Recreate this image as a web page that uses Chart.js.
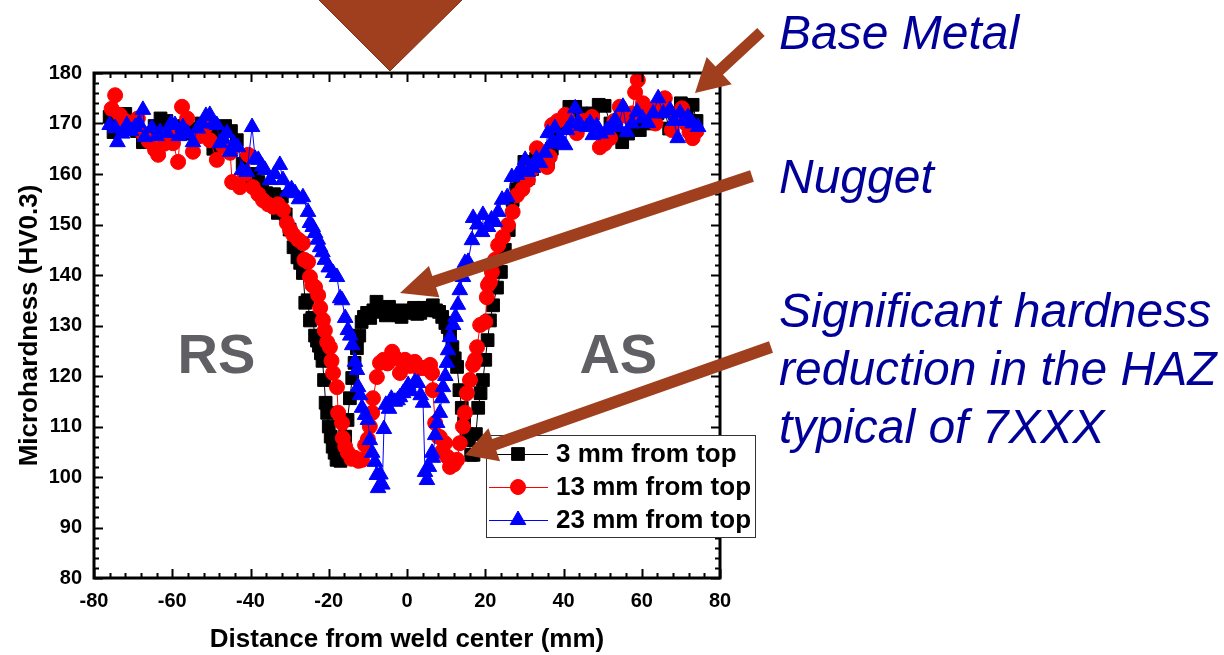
<!DOCTYPE html>
<html>
<head>
<meta charset="utf-8">
<script src="https://cdn.jsdelivr.net/npm/chart.js@4.4.1/dist/chart.umd.min.js"></script>
<style>
  html, body { margin: 0; padding: 0; background: #ffffff; }
  #wrap { position: relative; width: 1224px; height: 655px; }
</style>
</head>
<body>
<div id="wrap"><canvas id="c" width="1224" height="655"></canvas></div>
<script>
// Microhardness traverses across the friction stir weld, [distance mm, HV0.3]
const seriesLabels = ['3 mm from top', '13 mm from top', '23 mm from top'];

const top3mm = [
  [-76,171.3],[-75,168.3],[-73.5,170.5],[-72,171.9],[-70.5,169],[-69,168.5],[-67.5,166.3],[-66,168],
  [-64.5,169.5],[-63,171],[-61.5,170.5],[-60,169],[-58.5,168.3],[-57,169.5],[-55.5,168],[-54,169],
  [-52.5,170],[-51,169],[-49.5,165],[-48,168],[-46.5,169.5],[-45,168.5],[-43.5,166.7],[-42,162],
  [-41,160],[-40,159.4],[-39,160],[-38,158.4],[-37,156.5],[-36,156.2],[-35,155.5],[-34,156],
  [-33,152.3],[-32,155.5],[-31,152],[-30,149],[-29,145.5],[-28,143.5],[-27.3,142.4],[-26.6,140.4],
  [-26,134.5],[-25.4,135],[-24.8,131],[-24.2,131.5],[-23.5,128],[-23,127],[-22.5,126],[-22,124.5],
  [-21.6,123],[-21.2,119.2],[-20.8,114.7],[-20.4,112.7],[-20,110],[-19.5,108],[-19,106],[-18.5,104.8],
  [-18,103.4],[-17.5,103.8],[-17,103.2],[-16.4,104],[-15.8,108],[-15.2,111.3],[-14.6,115.6],[-14,119.6],
  [-13.4,122.6],[-12.8,125.5],[-12.2,128],[-11.6,130.7],[-11,131.7],[-10.2,132.5],[-9.4,131.5],[-8.6,133],
  [-7.8,134.7],[-7,133.5],[-6.2,132.7],[-5.4,132],[-4.6,133.7],[-3.8,132.5],[-3,133],[-2.2,132],
  [-1.4,131.7],[-0.6,132.5],[0.2,133],[1,132.7],[1.8,133.5],[2.6,132.3],[3.4,132.5],[4.2,133.5],
  [5,133],[5.8,133.5],[6.6,134],[7.4,133],[8.2,132.7],[9,131.7],[9.8,130.5],[10.4,129.7],
  [11,128.5],[11.6,125.7],[12.2,123.5],[12.8,121.8],[13.4,117.2],[14,113.7],[14.6,110.7],[15.2,108.5],
  [15.8,107.3],[16.4,104.4],[17,104.4],[17.6,108.5],[18.2,113.7],[18.8,116.6],[19.4,119.2],[20,123.2],
  [20.6,127.1],[21.2,131],[22,134],[23,137.5],[24,140.6],[25,145],[26,148.9],[27,154.8],
  [28,157],[29,159],[30,162.4],[31,159.2],[32,161],[33,163],[34,162.5],[35,163],
  [36,162.4],[37,165],[38,167],[39,169.3],[40,170],[41.5,173.3],[43,173.3],[44.5,172],
  [46,170],[47.5,172],[49,173.7],[50.5,173.5],[52,170],[53.5,168],[55,166.3],[56.5,168],
  [58,169],[59.5,168.7],[61,170],[62.5,171],[64,172],[65.5,173.7],[67,169],[68.5,172],
  [70,174],[71.5,173],[73,173.7],[74,170.5]
];

const top13mm = [
  [-75.5,172.9],[-74.6,175.6],[-73.4,171.7],[-72,170.5],[-70.5,169.5],[-68.8,171],[-67.5,168],[-66,166.5],
  [-64.4,164.8],[-63.6,163.8],[-62,166],[-60.8,168],[-59.8,166.1],[-58.5,162.4],[-57.5,173.3],[-56.2,171],
  [-54.7,164.4],[-53,167.5],[-51.6,169.3],[-50.4,166.7],[-48.6,162.8],[-47,165.5],[-45.2,164.2],[-44.7,158.4],
  [-42.7,157.4],[-41.5,160],[-40.6,163.8],[-39.4,157.4],[-38,156],[-36.8,154.8],[-35.5,154],[-34.2,153.5],
  [-33,154],[-31.7,152.9],[-30.7,150.3],[-29.9,149],[-29.1,148],[-27.8,147],[-26.6,146.3],[-26.2,143],
  [-25.3,142.6],[-24.8,139.6],[-24.2,138],[-23.5,137.6],[-22.7,136],[-22.2,133.5],[-21.5,131.1],[-21,129],
  [-20.4,126.7],[-19.7,125.7],[-19.3,123],[-18.9,120.6],[-17.9,117.8],[-17.6,112.7],[-16.6,110.7],[-16.4,107.7],
  [-15.8,106],[-15.1,104.8],[-14.2,103.6],[-13.3,103.8],[-12.4,103.2],[-11.5,103.4],[-10.7,106.3],[-10,107.5],
  [-9.5,110],[-8.9,112.7],[-8.7,115.6],[-7.7,119.8],[-6.9,122.6],[-6,123.2],[-5,122.5],[-3.8,124.8],
  [-2.8,123.5],[-1.8,120.6],[-0.5,123.2],[0.8,122],[2,122.8],[3,121.5],[4.1,121.6],[5,121.5],
  [5.9,122.2],[6.4,120.6],[6.6,117.2],[7.2,110.7],[8,108],[8.4,107.9],[8.9,105],[9.7,106.7],
  [10.3,104],[11,102],[12,102.5],[12.8,103.4],[13.5,106.7],[14.3,110],[14.8,112.7],[15.3,116.6],
  [16.1,119.2],[16.9,122.2],[17.4,123.2],[17.9,125.7],[18.7,130.1],[20,130.7],[20.4,135.6],[20.7,138],
  [21.2,138.6],[21.7,140.6],[22.5,143],[23.3,145.9],[24.5,147.5],[25.8,149.9],[27,152.5],[28.1,155.8],
  [29.5,157],[30.9,158.8],[32,161],[33.2,165.1],[34.5,163],[35.8,161.4],[36.5,163.4],[37.1,169.7],
  [38.5,170.5],[40.4,171.7],[41.8,170],[43.4,168.1],[45,170.5],[47.3,171.3],[49.3,165.3],[50.5,166],
  [51.9,167.1],[53,170.5],[54.4,173.3],[56,171.5],[57.5,172],[58.3,176.2],[59,178.6],[60.3,174],
  [62.1,172.7],[63.5,170],[64.8,173.5],[65.9,175],[67.7,168.7],[69,171],[70.3,173],[71.3,170],
  [72.2,168.3],[73,167.1],[74,168.5]
];

const top23mm = [
  [-76,169.7],[-74.6,169.1],[-74,166.3],[-72.8,168],[-71.6,169.7],[-70.5,168.5],[-69.5,169.3],[-68.5,170],
  [-67.5,172.7],[-67,167.3],[-65.2,169.1],[-64,167.5],[-63.1,168.3],[-61.3,168.1],[-60.3,170],[-59.3,169.7],
  [-58.3,167.5],[-57.3,169.3],[-56,168],[-54.7,166.3],[-53.5,169],[-52.3,170],[-51.4,171.5],[-50.4,171.7],
  [-49.5,170],[-48.6,169.7],[-47.8,166.1],[-47,167],[-46,168.1],[-45.2,164.4],[-44.2,166],[-43.2,165.3],
  [-42.2,160.8],[-40.9,160.4],[-39.6,169.3],[-38.8,163],[-38,162.8],[-37,161.5],[-36.3,160.8],[-35,158.8],
  [-33.8,160],[-32.5,161.8],[-31.7,158.8],[-30.5,156.5],[-29.5,157],[-28.6,156.2],[-27.6,155],[-26.6,155.4],
  [-25.3,152.5],[-24.8,150.3],[-24.1,149.5],[-23.5,148.3],[-22.8,147],[-22.2,145.5],[-21.6,144.5],[-21,143],
  [-20,141.5],[-18.9,140.4],[-17.9,139.6],[-17.1,135.4],[-16.6,135],[-15.8,131.5],[-15.1,129.1],[-14.5,128],
  [-14,126.1],[-13.3,122.8],[-12.8,121.2],[-12.5,117.8],[-12,116.2],[-11.5,113.7],[-10.7,112.3],[-10,111.3],
  [-9.5,107.3],[-8.9,104.8],[-8.2,103],[-7.7,100.4],[-7.4,97.8],[-6.8,100.5],[-6.3,98.5],[-5.9,109.5],
  [-5.4,114.3],[-4.6,113.5],[-4,115.5],[-3.1,114.9],[-2.4,115.2],[-1.8,115.8],[-1,116.6],[-0.4,117.2],
  [0.3,118.2],[1,117],[2,118.8],[2.8,118.6],[3.5,116.2],[4.1,114.7],[4.6,101],[5.1,99.4],
  [5.6,102],[6.4,104.8],[6.6,103.8],[7.2,108.3],[7.7,110.7],[8.4,112.7],[8.9,115.6],[9.2,117.8],
  [9.8,120],[10.2,122.6],[10.5,125.1],[11,127.7],[11.8,130.1],[12.4,131.7],[13,134.1],[13.5,137],
  [14.3,139.6],[14.8,142.4],[15.6,142.6],[16.6,146.9],[16.9,151.3],[18,150],[19.2,148.5],[19.4,151.9],
  [20.7,149.5],[21.6,151],[22.5,150.5],[23.3,152.5],[24.3,154.9],[25.6,155.4],[26.8,159.4],[28.1,159.8],
  [29.2,161],[30.2,162.8],[30.9,160.4],[32.2,161.2],[33.1,163],[34,162.2],[35.3,164.2],[36,168.1],
  [36.8,166],[37.8,169.1],[39,167],[39.9,166.1],[40.4,165.7],[40.9,168.7],[42,170],[43,173],
  [43.7,170.3],[44.5,169.5],[46,169.3],[46.8,170.1],[47.5,167.7],[48.5,169.5],[49.5,168],[51.1,168.7],
  [52.2,169.5],[53.2,170.7],[54,169.3],[55.2,173.3],[56.2,168.3],[57.5,170],[58.8,172.3],[60.2,171],
  [61.6,170.1],[62.9,172],[64.2,175],[65.5,172],[67.2,172.7],[68.2,170.5],[69.2,167.1],[69.8,172.1],
  [70.8,170.5],[71.8,171.3],[73,170],[74.4,169.3]
];

const xRange = [-80, 80];
const yRange = [80, 180];
const xStep = 20, xMinorStep = 4;
const yStep = 10, yMinorStep = 2;

const sideLabels = [
  { text: 'RS', x: -48.7 },
  { text: 'AS', x: 54.0 }
];
const calloutLines = [
  ['Base Metal'],
  ['Nugget'],
  ['Significant hardness', 'reduction in the HAZ', 'typical of 7XXX']
];

const FONT = '"Liberation Sans", Arial, Helvetica, sans-serif';
const BROWN = '#A03F1E';
const NAVY = '#000099';
const seriesColors = ['#000000', '#FF0000', '#0000FF'];
const seriesStyles = ['rect', 'circle', 'triangle'];
const seriesRadius = [9, 7.5, 9];

function toPoints(pairs) { return pairs.map(p => ({ x: p[0], y: p[1] })); }

function drawMarker(ctx, style, r, x, y, color) {
  ctx.beginPath();
  if (style === 'rect') {
    const s = Math.SQRT1_2 * r;
    ctx.rect(x - s, y - s, 2 * s, 2 * s);
  } else if (style === 'circle') {
    ctx.arc(x, y, r, 0, Math.PI * 2);
  } else {
    ctx.moveTo(x, y - r);
    ctx.lineTo(x + r * Math.sin(2 * Math.PI / 3), y - r * Math.cos(2 * Math.PI / 3));
    ctx.lineTo(x + r * Math.sin(4 * Math.PI / 3), y - r * Math.cos(4 * Math.PI / 3));
    ctx.closePath();
  }
  ctx.fillStyle = color; ctx.strokeStyle = color; ctx.lineWidth = 1;
  ctx.fill(); ctx.stroke();
}

function blockArrow(ctx, x0, y0, x1, y1, shaftW, headLen, headW) {
  const dx = x1 - x0, dy = y1 - y0, L = Math.hypot(dx, dy);
  const ux = dx / L, uy = dy / L, nx = -uy, ny = ux;
  const bx = x1 - ux * headLen, by = y1 - uy * headLen;
  ctx.beginPath();
  ctx.moveTo(x0 + nx * shaftW / 2, y0 + ny * shaftW / 2);
  ctx.lineTo(bx + nx * shaftW / 2, by + ny * shaftW / 2);
  ctx.lineTo(bx + nx * headW / 2, by + ny * headW / 2);
  ctx.lineTo(x1, y1);
  ctx.lineTo(bx - nx * headW / 2, by - ny * headW / 2);
  ctx.lineTo(bx - nx * shaftW / 2, by - ny * shaftW / 2);
  ctx.lineTo(x0 - nx * shaftW / 2, y0 - ny * shaftW / 2);
  ctx.closePath();
  ctx.fill();
}

// Frame with inward major/minor ticks on all four sides, legend, side labels and callouts
const decorations = {
  id: 'decorations',
  afterDraw(chart) {
    const ctx = chart.ctx;
    const { left, right, top, bottom } = chart.chartArea;
    const xs = chart.scales.x, ys = chart.scales.y;
    ctx.save();

    // side labels
    ctx.font = 'bold 56px ' + FONT;
    ctx.fillStyle = '#606064';
    ctx.textAlign = 'center';
    ctx.textBaseline = 'alphabetic';
    sideLabels.forEach(s => ctx.fillText(s.text, xs.getPixelForValue(s.x), 373));

    // ticks
    ctx.strokeStyle = '#000';
    ctx.lineWidth = 2;
    ctx.beginPath();
    for (let v = xRange[0]; v <= xRange[1] + 1e-9; v += xMinorStep) {
      const px = Math.round(xs.getPixelForValue(v)) + 0.5;
      const len = (Math.abs(v % xStep) < 1e-9) ? 9 : 5;
      ctx.moveTo(px, bottom); ctx.lineTo(px, bottom - len);
      ctx.moveTo(px, top); ctx.lineTo(px, top + len);
    }
    for (let v = yRange[0]; v <= yRange[1] + 1e-9; v += yMinorStep) {
      const py = Math.round(ys.getPixelForValue(v)) + 0.5;
      const len = (Math.abs(v % yStep) < 1e-9) ? 9 : 5;
      ctx.moveTo(left, py); ctx.lineTo(left + len, py);
      ctx.moveTo(right, py); ctx.lineTo(right - len, py);
    }
    ctx.stroke();

    // frame
    ctx.lineWidth = 3;
    ctx.strokeRect(left, top, right - left, bottom - top);

    // legend
    const lg = { x: 486.5, y: 435.5, w: 269, h: 102 };
    ctx.fillStyle = '#ffffff';
    ctx.fillRect(lg.x, lg.y, lg.w, lg.h);
    ctx.lineWidth = 1;
    ctx.strokeStyle = '#333333';
    ctx.strokeRect(lg.x, lg.y, lg.w, lg.h);
    const rowY = [454, 487, 520];
    ctx.font = 'bold 26px ' + FONT;
    ctx.textAlign = 'left';
    ctx.textBaseline = 'middle';
    seriesLabels.forEach((label, i) => {
      ctx.strokeStyle = seriesColors[i];
      ctx.lineWidth = 1;
      ctx.beginPath();
      ctx.moveTo(489, rowY[i] + 0.5); ctx.lineTo(548, rowY[i] + 0.5);
      ctx.stroke();
      drawMarker(ctx, seriesStyles[i], seriesRadius[i], 518, rowY[i], seriesColors[i]);
      ctx.fillStyle = '#000';
      ctx.fillText(label, 556, rowY[i] + 1);
    });

    // callout arrows
    ctx.fillStyle = BROWN;
    ctx.beginPath();
    ctx.moveTo(318, -1); ctx.lineTo(463, -1); ctx.lineTo(390, 71); ctx.closePath();
    ctx.fill();
    ctx.strokeStyle = '#7E3116'; ctx.lineWidth = 1; ctx.stroke();
    blockArrow(ctx, 761, 32, 695, 93, 11, 33, 37);
    blockArrow(ctx, 752, 176, 400, 293, 12, 36, 33);
    blockArrow(ctx, 771, 347, 465, 455, 12, 31, 35);

    // callout texts
    ctx.fillStyle = NAVY;
    ctx.font = 'italic 48px ' + FONT;
    ctx.textAlign = 'left';
    ctx.textBaseline = 'alphabetic';
    const baselines = [[49], [193], [327, 385, 443]];
    calloutLines.forEach((lines, i) => {
      lines.forEach((t, j) => ctx.fillText(t, 779, baselines[i][j]));
    });
    ctx.restore();
  }
};

const makeSet = (label, pairs, i, order) => ({
  label,
  data: toPoints(pairs),
  showLine: true,
  borderColor: seriesColors[i],
  backgroundColor: seriesColors[i],
  borderWidth: 1,
  pointStyle: seriesStyles[i],
  pointRadius: seriesRadius[i],
  pointBorderWidth: 1,
  pointBorderColor: seriesColors[i],
  pointBackgroundColor: seriesColors[i],
  tension: 0,
  order
});

const tickFont = { family: FONT, size: 20, weight: 'bold' };
const titleFont = { family: FONT, size: 26, weight: 'bold' };

new Chart(document.getElementById('c'), {
  type: 'scatter',
  data: {
    datasets: [
      makeSet(seriesLabels[0], top3mm, 0, 3),
      makeSet(seriesLabels[1], top13mm, 1, 2),
      makeSet(seriesLabels[2], top23mm, 2, 1)
    ]
  },
  options: {
    responsive: false,
    animation: false,
    devicePixelRatio: 1,
    layout: { padding: { left: 0, top: 73, right: 504, bottom: 0 } },
    plugins: { legend: { display: false }, tooltip: { enabled: false } },
    scales: {
      x: {
        type: 'linear', min: xRange[0], max: xRange[1],
        ticks: { stepSize: xStep, color: '#000', font: tickFont, padding: 11, maxRotation: 0 },
        grid: { display: false, drawTicks: false },
        border: { display: false },
        title: { display: true, text: 'Distance from weld center (mm)', color: '#000', font: titleFont, padding: { top: 0, bottom: 0 } },
        afterFit(s) { s.height = 77; }
      },
      y: {
        type: 'linear', min: yRange[0], max: yRange[1],
        ticks: { stepSize: yStep, color: '#000', font: tickFont, padding: 12 },
        grid: { display: false, drawTicks: false },
        border: { display: false },
        title: { display: true, text: 'Microhardness (HV0.3)', color: '#000', font: titleFont, padding: { top: 14, bottom: 0 } },
        afterFit(s) { s.width = 94; }
      }
    }
  },
  plugins: [decorations]
});
</script>
</body>
</html>
